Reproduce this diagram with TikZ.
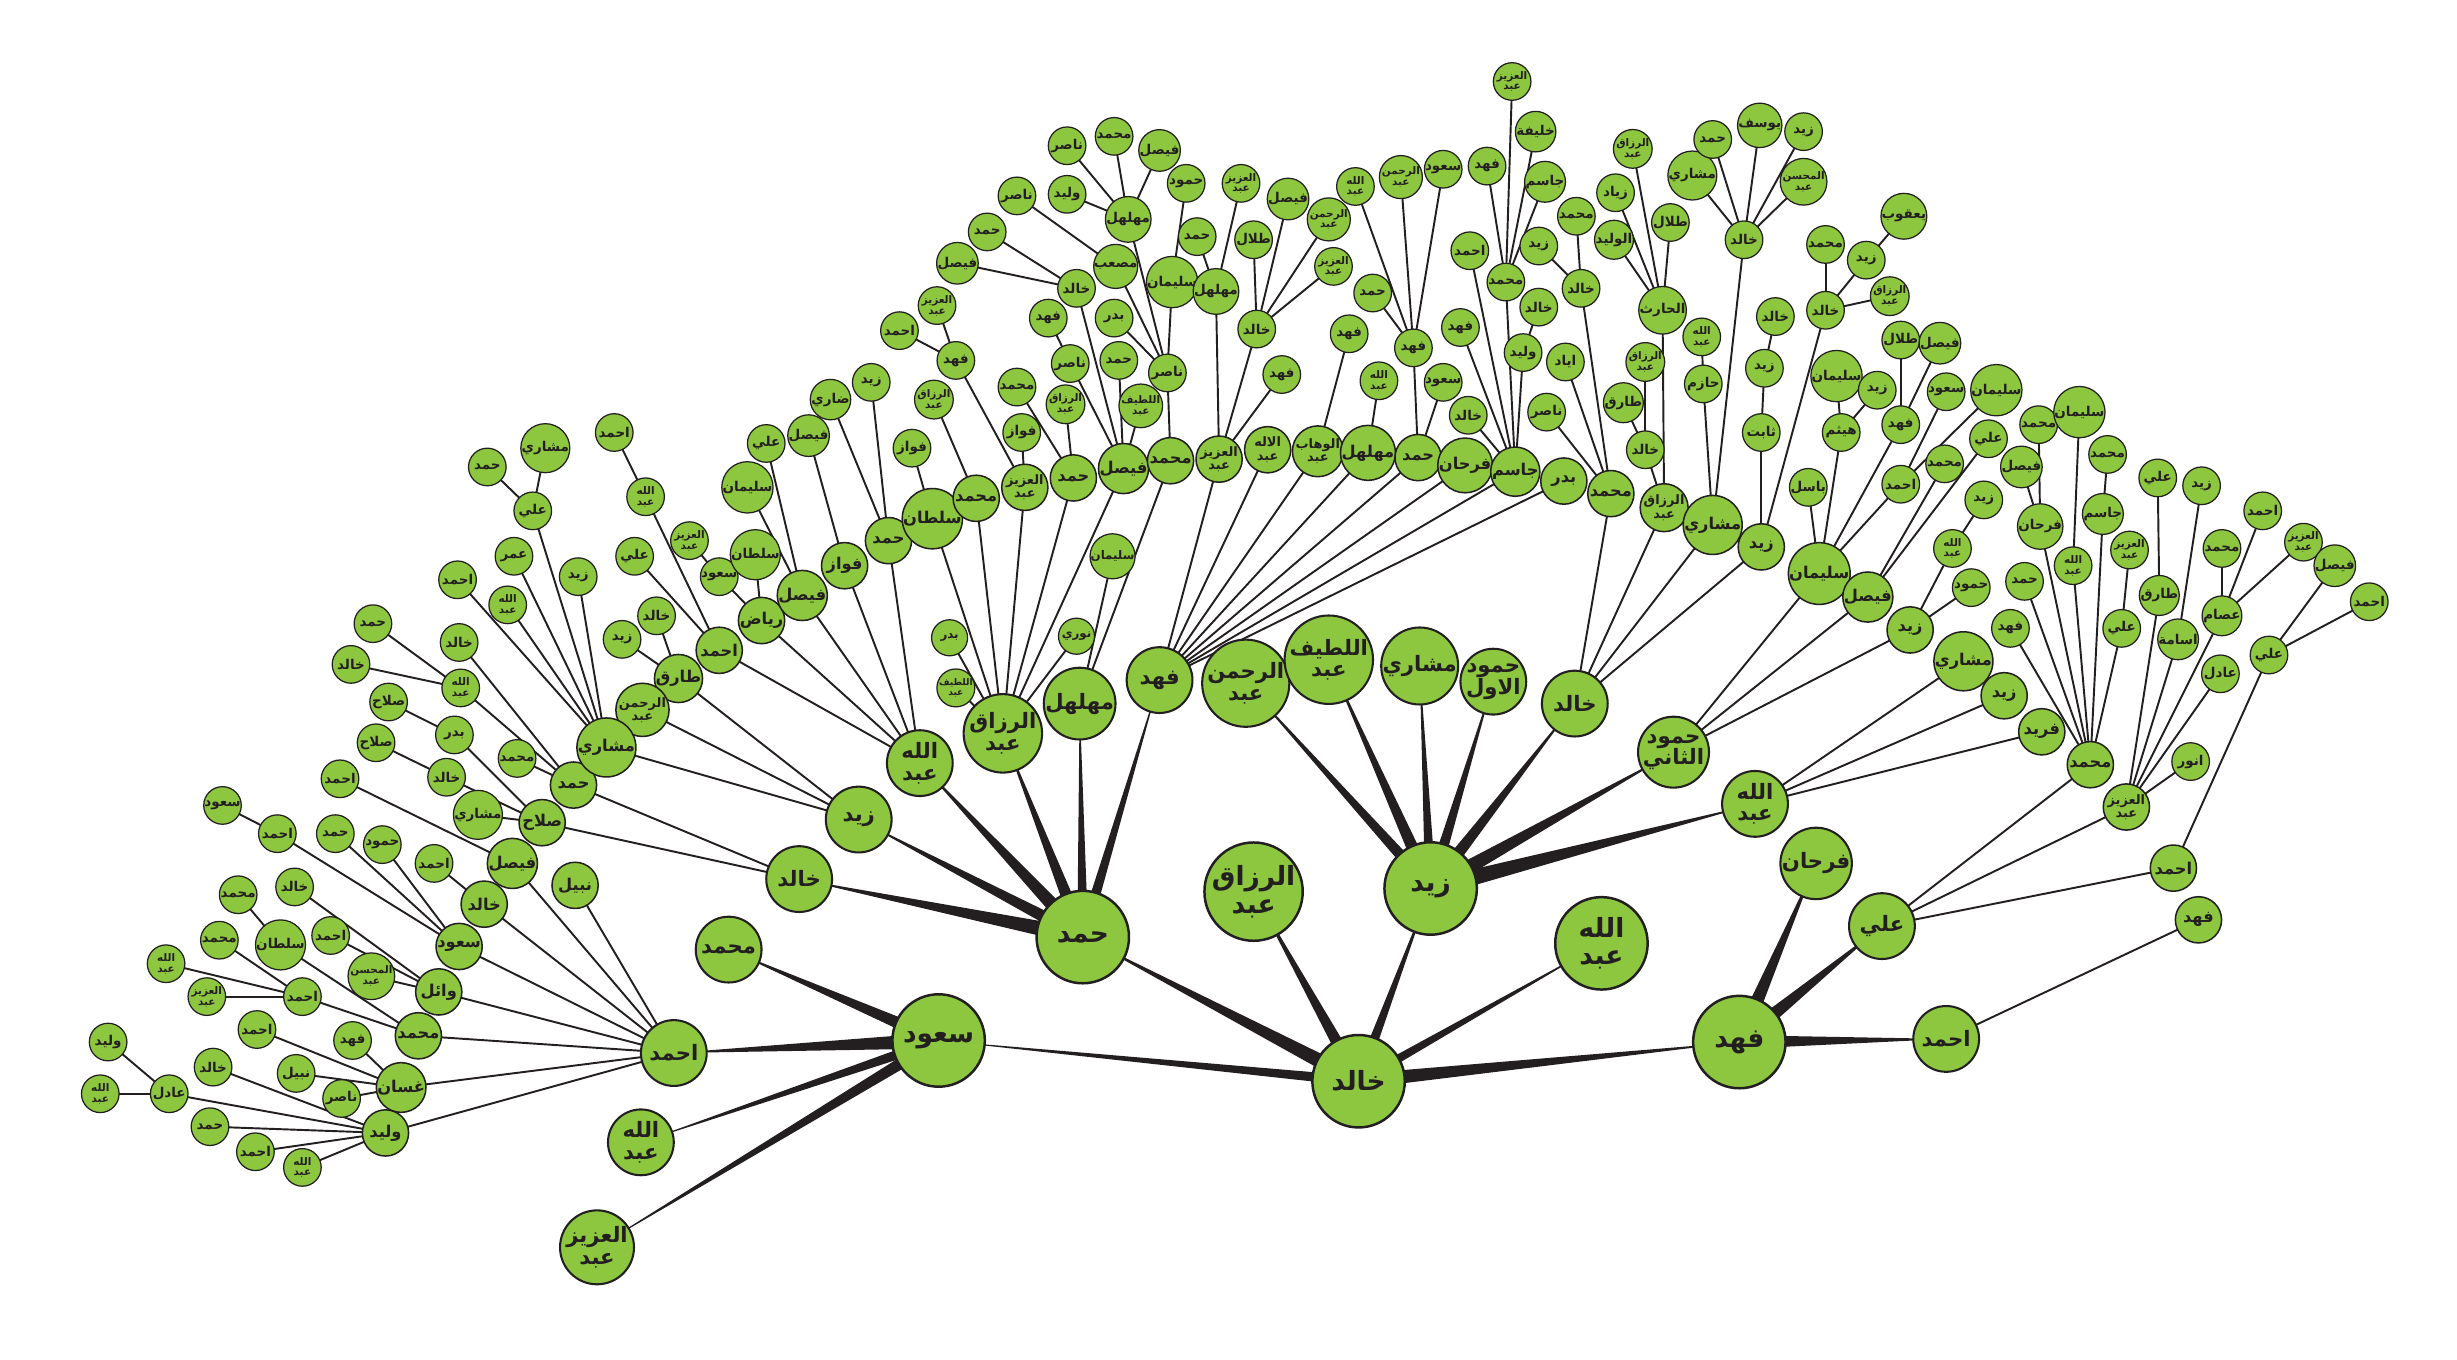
\documentclass[tikz,border=0pt]{standalone}
\usepackage{fontspec}
\usetikzlibrary{calc,backgrounds}
\TeXXeTstate=1
\newfontfamily\arabicfont[Script=Arabic]{DejaVu Sans}
\definecolor{leaf}{RGB}{141,198,63}
\definecolor{ink}{RGB}{35,31,32}
\newcommand{\AR}[1]{\beginR #1\endR}
\tikzset{
 nd/.style={circle, draw=ink, fill=leaf, inner sep=0pt, align=center, text=ink},
 big/.style={nd, minimum size=1.18cm, line width=0.9pt, font=\arabicfont\bfseries\fontsize{9.6}{10}\selectfont},
 mid/.style={nd, minimum size=0.84cm, line width=0.75pt, font=\arabicfont\bfseries\fontsize{7.7}{7.9}\selectfont},
 med/.style={nd, minimum size=0.59cm, line width=0.55pt, font=\arabicfont\bfseries\fontsize{5.9}{6.1}\selectfont},
 medt/.style={med, font=\arabicfont\bfseries\fontsize{4.7}{4.8}\selectfont},
 sml/.style={nd, minimum size=0.48cm, line width=0.45pt, font=\arabicfont\bfseries\fontsize{4.9}{5.1}\selectfont},
 smlt/.style={sml, font=\arabicfont\bfseries\fontsize{3.8}{3.9}\selectfont},
 xsm/.style={nd, minimum size=0.46cm, line width=0.45pt, font=\arabicfont\bfseries\fontsize{4.3}{4.5}\selectfont},
 xsmt/.style={xsm, font=\arabicfont\bfseries\fontsize{3.3}{3.4}\selectfont},
 ed/.style={draw=ink, line width=0.7pt},
}
\newcommand{\ED}[2]{\draw[ed] (#1.center) -- (#2.center);}
\newcommand{\WD}[3]{\fill[ink] ($(#1.center)!#3!90:(#2.center)$) -- ($(#1.center)!#3!-90:(#2.center)$) -- (#2.center) -- cycle;}
\begin{document}
\begin{tikzpicture}[x=0.02cm,y=-0.02cm]
\useasboundingbox (0,0) rectangle (1568,867.3);
% ---------- level 0 / 1
\node[big] (K0) at (867,690) {\AR{خالد}};
\node[big] (S1) at (599,664) {\AR{سعود}};
\node[big] (H1) at (691,598) {\AR{حمد}};
\node[big] (Z1) at (913,567) {\AR{زيد}};
\node[big] (F1) at (1110,665) {\AR{فهد}};
\node[big] (R1) at (800,569) {\AR{الرزاق}\\\AR{عبد}};
\node[big] (A1) at (1022,602) {\AR{الله}\\\AR{عبد}};
% ---------- level 2
\node[mid] (sM) at (465,606) {\AR{محمد}};
\node[mid] (sA) at (430,672) {\AR{احمد}};
\node[mid] (sB) at (409,729) {\AR{الله}\\\AR{عبد}};
\node[mid] (sC) at (381,796) {\AR{العزيز}\\\AR{عبد}};
\node[mid] (hZ) at (548,523) {\AR{زيد}};
\node[mid] (hK) at (510,561) {\AR{خالد}};
\node[mid] (hA) at (587,487) {\AR{الله}\\\AR{عبد}};
\node[mid] (hR) at (640,468) {\AR{الرزاق}\\\AR{عبد}};
\node[mid] (hM) at (689,449) {\AR{مهلهل}};
\node[mid] (hF) at (740,434) {\AR{فهد}};
\node[mid] (zR) at (795,436) {\AR{الرحمن}\\\AR{عبد}};
\node[mid] (zL) at (848,421) {\AR{اللطيف}\\\AR{عبد}};
\node[mid] (zM) at (906,425) {\AR{مشاري}};
\node[mid] (zH) at (953,435) {\AR{حمود}\\\AR{الاول}};
\node[mid] (zK) at (1005,449) {\AR{خالد}};
\node[mid] (zT) at (1068,480) {\AR{حمود}\\\AR{الثاني}};
\node[mid] (zA) at (1120,513) {\AR{الله}\\\AR{عبد}};
\node[mid] (fF) at (1159,551) {\AR{فرحان}};
\node[mid] (fA) at (1201,591) {\AR{علي}};
\node[mid] (fH) at (1242,663) {\AR{احمد}};
% ---------- under sA
\node[med] (a1) at (367,565) {\AR{نبيل}};
\node[med] (a2) at (327,551) {\AR{فيصل}};
\node[sml] (a2a) at (217,497) {\AR{احمد}};
\node[med] (a3) at (309,577) {\AR{خالد}};
\node[sml] (a3a) at (277,551) {\AR{احمد}};
\node[med] (a4) at (293,604) {\AR{سعود}};
\node[sml] (a4a) at (177,532) {\AR{احمد}};
\node[sml] (a4a1) at (142,514) {\AR{سعود}};
\node[sml] (a4b) at (214,532) {\AR{حمد}};
\node[sml] (a4c) at (244,539) {\AR{حمود}};
\node[med] (a5) at (280,633) {\AR{وائل}};
\node[sml] (a5a) at (188,566) {\AR{خالد}};
\node[sml] (a5b) at (211,597) {\AR{احمد}};
\node[smlt] (a5c) at (237,623) {\AR{المحسن}\\\AR{عبد}};
\node[med] (a6) at (267,661) {\AR{محمد}};
\node[sml] (a6a) at (179,603) {\AR{سلطان}};
\node[sml] (a6a1) at (152,571) {\AR{محمد}};
\node[sml] (a6b) at (193,636) {\AR{احمد}};
\node[sml] (a6b1) at (140,600) {\AR{محمد}};
\node[smlt] (a6b2) at (106,615) {\AR{الله}\\\AR{عبد}};
\node[smlt] (a6b3) at (132,636) {\AR{العزيز}\\\AR{عبد}};
\node[med] (a7) at (256,694) {\AR{غسان}};
\node[sml] (a7a) at (164,657) {\AR{احمد}};
\node[sml] (a7b) at (225,664) {\AR{فهد}};
\node[sml] (a7c) at (189,685) {\AR{نبيل}};
\node[sml] (a7d) at (218,701) {\AR{ناصر}};
\node[med] (a8) at (246,723) {\AR{وليد}};
\node[sml] (a8a) at (108,698) {\AR{عادل}};
\node[sml] (a8a1) at (69,665) {\AR{وليد}};
\node[smlt] (a8a2) at (64,698) {\AR{الله}\\\AR{عبد}};
\node[sml] (a8b) at (136,681) {\AR{خالد}};
\node[sml] (a8c) at (134,719) {\AR{حمد}};
\node[sml] (a8d) at (163,735) {\AR{احمد}};
\node[smlt] (a8e) at (193,745) {\AR{الله}\\\AR{عبد}};
% ---------- under hK
\node[med] (k1) at (366,501) {\AR{حمد}};
\node[smlt] (k1a) at (294,439) {\AR{الله}\\\AR{عبد}};
\node[sml] (k1a1) at (238,398) {\AR{حمد}};
\node[sml] (k1a2) at (224,424) {\AR{خالد}};
\node[sml] (k1b) at (293,410) {\AR{خالد}};
\node[sml] (k1c) at (330,484) {\AR{محمد}};
\node[med] (k2) at (346,525) {\AR{صلاح}};
\node[sml] (k2a) at (290,469) {\AR{بدر}};
\node[sml] (k2a1) at (248,448) {\AR{صلاح}};
\node[sml] (k2b) at (285,496) {\AR{خالد}};
\node[sml] (k2b1) at (240,474) {\AR{صلاح}};
\node[sml] (k2c) at (305,520) {\AR{مشاري}};
% ---------- under hZ
\node[med] (y1) at (433,433) {\AR{طارق}};
\node[sml] (y1a) at (397,408) {\AR{زيد}};
\node[sml] (y1b) at (419,393) {\AR{خالد}};
\node[medt] (y2) at (410,453) {\AR{الرحمن}\\\AR{عبد}};
\node[med] (y3) at (387,477) {\AR{مشاري}};
\node[sml] (y3a) at (292,370) {\AR{احمد}};
\node[sml] (y3b) at (328,355) {\AR{عمر}};
\node[sml] (y3c) at (340,326) {\AR{علي}};
\node[sml] (y3c1) at (311,298) {\AR{حمد}};
\node[sml] (y3c2) at (348,286) {\AR{مشاري}};
\node[sml] (y3d) at (369,368) {\AR{زيد}};
\node[smlt] (y3e) at (324,386) {\AR{الله}\\\AR{عبد}};
% ---------- under hA
\node[med] (b1) at (459,415) {\AR{احمد}};
\node[smlt] (b1a) at (412,317) {\AR{الله}\\\AR{عبد}};
\node[sml] (b1a1) at (392,276) {\AR{احمد}};
\node[sml] (b1b) at (405,355) {\AR{علي}};
\node[med] (b2) at (486,396) {\AR{رياض}};
\node[sml] (b2a) at (459,368) {\AR{سعود}};
\node[smlt] (b2a1) at (440,345) {\AR{العزيز}\\\AR{عبد}};
\node[sml] (b2b) at (482,354) {\AR{سلطان}};
\node[med] (b3) at (512,380) {\AR{فيصل}};
\node[sml] (b3a) at (477,311) {\AR{سليمان}};
\node[sml] (b3b) at (489,283) {\AR{علي}};
\node[med] (b4) at (539,361) {\AR{فواز}};
\node[sml] (b4a) at (516,278) {\AR{فيصل}};
\node[med] (b5) at (567,345) {\AR{حمد}};
\node[sml] (b5a) at (530,255) {\AR{ضاري}};
\node[sml] (b5b) at (556,244) {\AR{زيد}};
% ---------- under hR
\node[xsm] (c1) at (606,407) {\AR{بدر}};
\node[xsmt] (c2) at (610,439) {\AR{اللطيف}\\\AR{عبد}};
\node[xsm] (c3) at (687,406) {\AR{نوري}};
\node[med] (c4) at (595,331) {\AR{سلطان}};
\node[sml] (c4a) at (582,286) {\AR{فواز}};
\node[med] (c5) at (623,318) {\AR{محمد}};
\node[smlt] (c5a) at (596,255) {\AR{الرزاق}\\\AR{عبد}};
\node[medt] (c6) at (654,311) {\AR{العزيز}\\\AR{عبد}};
\node[sml] (c6a) at (652,276) {\AR{فواز}};
\node[sml] (c6b) at (610,230) {\AR{فهد}};
\node[sml] (c6b1) at (574,211) {\AR{احمد}};
\node[smlt] (c6b2) at (598,195) {\AR{العزيز}\\\AR{عبد}};
\node[med] (c7) at (685,305) {\AR{حمد}};
\node[sml] (c7a) at (649,247) {\AR{محمد}};
\node[smlt] (c7b) at (680,258) {\AR{الرزاق}\\\AR{عبد}};
\node[med] (c8) at (717,299) {\AR{فيصل}};
\node[sml] (c8a) at (683,232) {\AR{ناصر}};
\node[sml] (c8a1) at (669,203) {\AR{فهد}};
\node[sml] (c8b) at (687,184) {\AR{خالد}};
\node[sml] (c8b1) at (630,148) {\AR{حمد}};
\node[sml] (c8b2) at (611,168) {\AR{فيصل}};
\node[sml] (c8c) at (714,230) {\AR{حمد}};
\node[smlt] (c8d) at (728,259) {\AR{اللطيف}\\\AR{عبد}};
% ---------- under hM
\node[xsm] (d0) at (710,355) {\AR{سليمان}};
\node[med] (d1) at (747,294) {\AR{محمد}};
\node[sml] (d1a) at (745,238) {\AR{ناصر}};
\node[sml] (d1a1) at (711,203) {\AR{بدر}};
\node[sml] (d1a2) at (712,170) {\AR{مصعب}};
\node[sml] (d1a2a) at (649,125) {\AR{ناصر}};
\node[sml] (d1a3) at (720,140) {\AR{مهلهل}};
\node[sml] (d1a3a) at (681,93) {\AR{ناصر}};
\node[sml] (d1a3b) at (711,87) {\AR{محمد}};
\node[sml] (d1a3c) at (740,96) {\AR{فيصل}};
\node[sml] (d1a3d) at (681,124) {\AR{وليد}};
\node[sml] (d1a4) at (748,180) {\AR{سليمان}};
\node[sml] (d1a4a) at (757,117) {\AR{حمود}};
% ---------- under hF
\node[medt] (e1) at (778,293) {\AR{العزيز}\\\AR{عبد}};
\node[sml] (e1a) at (776,186) {\AR{مهلهل}};
\node[sml] (e1a1) at (764,151) {\AR{حمد}};
\node[smlt] (e1a2) at (792,117) {\AR{العزيز}\\\AR{عبد}};
\node[sml] (e1b) at (802,210) {\AR{خالد}};
\node[sml] (e1b1) at (800,153) {\AR{طلال}};
\node[sml] (e1b2) at (822,127) {\AR{فيصل}};
\node[smlt] (e1b3) at (848,140) {\AR{الرحمن}\\\AR{عبد}};
\node[smlt] (e1b4) at (851,170) {\AR{العزيز}\\\AR{عبد}};
\node[sml] (e1c) at (818,239) {\AR{فهد}};
\node[medt] (e2) at (809,287) {\AR{الاله}\\\AR{عبد}};
\node[medt] (e3) at (841,288) {\AR{الوهاب}\\\AR{عبد}};
\node[sml] (e3a) at (861,213) {\AR{فهد}};
\node[med] (e4) at (873,289) {\AR{مهلهل}};
\node[smlt] (e4a) at (880,243) {\AR{الله}\\\AR{عبد}};
\node[med] (e5) at (905,292) {\AR{حمد}};
\node[sml] (e5a) at (902,222) {\AR{فهد}};
\node[sml] (e5a1) at (876,187) {\AR{حمد}};
\node[smlt] (e5a2) at (865,119) {\AR{الله}\\\AR{عبد}};
\node[smlt] (e5a3) at (894,113) {\AR{الرحمن}\\\AR{عبد}};
\node[sml] (e5a4) at (921,108) {\AR{سعود}};
\node[sml] (e5b) at (921,244) {\AR{سعود}};
\node[med] (e6) at (935,297) {\AR{فرحان}};
\node[med] (e7) at (967,301) {\AR{جاسم}};
\node[sml] (e7a) at (937,265) {\AR{خالد}};
\node[sml] (e7b) at (932,209) {\AR{فهد}};
\node[sml] (e7c) at (938,160) {\AR{احمد}};
\node[sml] (e7d) at (961,180) {\AR{محمد}};
\node[smlt] (e7d1) at (965,52) {\AR{العزيز}\\\AR{عبد}};
\node[sml] (e7d2) at (949,106) {\AR{فهد}};
\node[sml] (e7d3) at (980,84) {\AR{خليفة}};
\node[sml] (e7d4) at (986,116) {\AR{جاسم}};
\node[sml] (e7e) at (972,225) {\AR{وليد}};
\node[sml] (e7e1) at (982,196) {\AR{خالد}};
\node[med] (e8) at (998,307) {\AR{بدر}};
% ---------- under zK
\node[med] (g1) at (1028,315) {\AR{محمد}};
\node[sml] (g1a) at (987,263) {\AR{ناصر}};
\node[sml] (g1b) at (999,231) {\AR{اياد}};
\node[sml] (g1c) at (1009,184) {\AR{خالد}};
\node[sml] (g1c1) at (1006,138) {\AR{محمد}};
\node[sml] (g1c2) at (982,157) {\AR{زيد}};
\node[medt] (g2) at (1062,324) {\AR{الرزاق}\\\AR{عبد}};
\node[sml] (g2a) at (1050,287) {\AR{خالد}};
\node[sml] (g2a1) at (1036,257) {\AR{طارق}};
\node[smlt] (g2a2) at (1050,231) {\AR{الرزاق}\\\AR{عبد}};
\node[sml] (g2b) at (1061,198) {\AR{الحارث}};
\node[sml] (g2b1) at (1030,153) {\AR{الوليد}};
\node[sml] (g2b2) at (1031,123) {\AR{زياد}};
\node[smlt] (g2b3) at (1042,95) {\AR{الرزاق}\\\AR{عبد}};
\node[sml] (g2b4) at (1066,142) {\AR{طلال}};
\node[med] (g3) at (1093,335) {\AR{مشاري}};
\node[sml] (g3a) at (1087,245) {\AR{حازم}};
\node[smlt] (g3a1) at (1086,215) {\AR{الله}\\\AR{عبد}};
\node[sml] (g3b) at (1113,153) {\AR{خالد}};
\node[sml] (g3b1) at (1080,112) {\AR{مشاري}};
\node[sml] (g3b2) at (1093,89) {\AR{حمد}};
\node[sml] (g3b3) at (1123,80) {\AR{يوسف}};
\node[sml] (g3b4) at (1151,84) {\AR{زيد}};
\node[smlt] (g3b5) at (1151,116) {\AR{المحسن}\\\AR{عبد}};
\node[med] (g4) at (1124,349) {\AR{زيد}};
\node[sml] (g4a) at (1124,276) {\AR{ثابت}};
\node[sml] (g4a1) at (1126,235) {\AR{زيد}};
\node[sml] (g4a1a) at (1133,202) {\AR{خالد}};
\node[sml] (g4b) at (1165,198) {\AR{خالد}};
\node[sml] (g4b1) at (1165,156) {\AR{محمد}};
\node[sml] (g4b2) at (1191,166) {\AR{زيد}};
\node[sml] (g4b2a) at (1215,138) {\AR{يعقوب}};
\node[smlt] (g4b3) at (1206,189) {\AR{الرزاق}\\\AR{عبد}};
% ---------- under zT
\node[med] (h1) at (1161,366) {\AR{سليمان}};
\node[sml] (h1a) at (1154,311) {\AR{باسل}};
\node[sml] (h1b) at (1175,276) {\AR{هيثم}};
\node[sml] (h1b1) at (1172,240) {\AR{سليمان}};
\node[sml] (h1b2) at (1198,249) {\AR{زيد}};
\node[sml] (h1c) at (1213,271) {\AR{فهد}};
\node[sml] (h1c1) at (1213,217) {\AR{طلال}};
\node[sml] (h1c2) at (1238,219) {\AR{فيصل}};
\node[sml] (h1d) at (1213,309) {\AR{احمد}};
\node[sml] (h1d1) at (1242,250) {\AR{سعود}};
\node[sml] (h1d2) at (1274,249) {\AR{سليمان}};
\node[med] (h2) at (1192,381) {\AR{فيصل}};
\node[sml] (h2a) at (1241,296) {\AR{محمد}};
\node[sml] (h2b) at (1269,280) {\AR{علي}};
\node[med] (h3) at (1219,402) {\AR{زيد}};
\node[smlt] (h3a) at (1246,350) {\AR{الله}\\\AR{عبد}};
\node[sml] (h3a1) at (1266,319) {\AR{زيد}};
\node[sml] (h3b) at (1258,375) {\AR{حمود}};
% ---------- under zA
\node[med] (i1) at (1253,422) {\AR{مشاري}};
\node[med] (i2) at (1279,444) {\AR{زيد}};
\node[med] (i3) at (1303,467) {\AR{فريد}};
% ---------- under fA, fH
\node[med] (j1) at (1334,488) {\AR{محمد}};
\node[sml] (j1a) at (1283,401) {\AR{فهد}};
\node[sml] (j1b) at (1292,371) {\AR{حمد}};
\node[sml] (j1c) at (1302,336) {\AR{فرحان}};
\node[sml] (j1c1) at (1290,298) {\AR{فيصل}};
\node[sml] (j1c2) at (1301,271) {\AR{محمد}};
\node[smlt] (j1d) at (1323,361) {\AR{الله}\\\AR{عبد}};
\node[sml] (j1d1) at (1327,263) {\AR{سليمان}};
\node[sml] (j1e) at (1342,328) {\AR{جاسم}};
\node[sml] (j1e1) at (1345,290) {\AR{محمد}};
\node[sml] (j1f) at (1354,401) {\AR{علي}};
\node[smlt] (j1f1) at (1359,351) {\AR{العزيز}\\\AR{عبد}};
\node[medt] (j2) at (1357,515) {\AR{العزيز}\\\AR{عبد}};
\node[sml] (j2a) at (1378,380) {\AR{طارق}};
\node[sml] (j2a1) at (1377,305) {\AR{علي}};
\node[sml] (j2b) at (1390,408) {\AR{اسامة}};
\node[sml] (j2b1) at (1405,310) {\AR{زيد}};
\node[sml] (j2c) at (1418,393) {\AR{عصام}};
\node[sml] (j2c1) at (1418,350) {\AR{محمد}};
\node[sml] (j2c2) at (1444,326) {\AR{احمد}};
\node[smlt] (j2c3) at (1470,346) {\AR{العزيز}\\\AR{عبد}};
\node[sml] (j2d) at (1417,430) {\AR{عادل}};
\node[sml] (j2e) at (1398,486) {\AR{انور}};
\node[med] (j3) at (1387,554) {\AR{احمد}};
\node[sml] (j3a) at (1448,418) {\AR{علي}};
\node[sml] (j3a1) at (1490,361) {\AR{فيصل}};
\node[sml] (j3a2) at (1512,384) {\AR{احمد}};
\node[med] (l1) at (1403,587) {\AR{فهد}};
% ================= connectors
\begin{pgfonlayer}{background}
% wedges
\WD{K0}{S1}{1.9pt} \WD{K0}{H1}{3pt} \WD{K0}{R1}{2.6pt} \WD{K0}{Z1}{2.1pt} \WD{K0}{A1}{1.8pt} \WD{K0}{F1}{2.7pt}
\WD{S1}{sM}{2.6pt} \WD{S1}{sA}{2.9pt} \WD{S1}{sB}{2pt} \WD{S1}{sC}{2.3pt}
\WD{H1}{hZ}{2.6pt} \WD{H1}{hK}{3.1pt} \WD{H1}{hA}{3pt} \WD{H1}{hR}{2.6pt} \WD{H1}{hM}{2pt} \WD{H1}{hF}{2.1pt}
\WD{Z1}{zR}{2.3pt} \WD{Z1}{zL}{2.6pt} \WD{Z1}{zM}{2pt} \WD{Z1}{zH}{2.3pt} \WD{Z1}{zK}{2.6pt} \WD{Z1}{zT}{3pt} \WD{Z1}{zA}{3.3pt}
\WD{F1}{fF}{3pt} \WD{F1}{fA}{3pt} \WD{F1}{fH}{2.5pt}
% under sA
\ED{sA}{a1} \ED{sA}{a2} \ED{sA}{a3} \ED{sA}{a4} \ED{sA}{a5} \ED{sA}{a6} \ED{sA}{a7} \ED{sA}{a8}
\ED{a2}{a2a} \ED{a3}{a3a}
\ED{a4}{a4a} \ED{a4a}{a4a1} \ED{a4}{a4b} \ED{a4}{a4c}
\ED{a5}{a5a} \ED{a5}{a5b} \ED{a5}{a5c}
\ED{a6}{a6a} \ED{a6a}{a6a1} \ED{a6}{a6b} \ED{a6b}{a6b1} \ED{a6b}{a6b2} \ED{a6b}{a6b3}
\ED{a7}{a7a} \ED{a7}{a7b} \ED{a7}{a7c} \ED{a7}{a7d}
\ED{a8}{a8a} \ED{a8a}{a8a1} \ED{a8a}{a8a2} \ED{a8}{a8b} \ED{a8}{a8c} \ED{a8}{a8d} \ED{a8}{a8e}
% under hK
\ED{hK}{k1} \ED{k1}{k1a} \ED{k1a}{k1a1} \ED{k1a}{k1a2} \ED{k1}{k1b} \ED{k1}{k1c}
\ED{hK}{k2} \ED{k2}{k2a} \ED{k2a}{k2a1} \ED{k2}{k2b} \ED{k2b}{k2b1} \ED{k2}{k2c}
% under hZ
\ED{hZ}{y1} \ED{y1}{y1a} \ED{y1}{y1b} \ED{hZ}{y2} \ED{hZ}{y3}
\ED{y3}{y3a} \ED{y3}{y3b} \ED{y3}{y3c} \ED{y3c}{y3c1} \ED{y3c}{y3c2} \ED{y3}{y3d} \ED{y3}{y3e}
% under hA
\ED{hA}{b1} \ED{b1}{b1a} \ED{b1a}{b1a1} \ED{b1}{b1b}
\ED{hA}{b2} \ED{b2}{b2a} \ED{b2a}{b2a1} \ED{b2}{b2b}
\ED{hA}{b3} \ED{b3}{b3a} \ED{b3}{b3b}
\ED{hA}{b4} \ED{b4}{b4a}
\ED{hA}{b5} \ED{b5}{b5a} \ED{b5}{b5b}
% under hR
\ED{hR}{c1} \ED{hR}{c2} \ED{hR}{c3}
\ED{hR}{c4} \ED{c4}{c4a}
\ED{hR}{c5} \ED{c5}{c5a}
\ED{hR}{c6} \ED{c6}{c6a} \ED{c6}{c6b} \ED{c6b}{c6b1} \ED{c6b}{c6b2}
\ED{hR}{c7} \ED{c7}{c7a} \ED{c7}{c7b}
\ED{hR}{c8} \ED{c8}{c8a} \ED{c8a}{c8a1} \ED{c8}{c8b} \ED{c8b}{c8b1} \ED{c8b}{c8b2} \ED{c8}{c8c} \ED{c8}{c8d}
% under hM
\ED{hM}{d0} \ED{hM}{d1} \ED{d1}{d1a}
\ED{d1a}{d1a1} \ED{d1a}{d1a2} \ED{d1a2}{d1a2a} \ED{d1a}{d1a3} \ED{d1a}{d1a4} \ED{d1a4}{d1a4a}
\ED{d1a3}{d1a3a} \ED{d1a3}{d1a3b} \ED{d1a3}{d1a3c} \ED{d1a3}{d1a3d}
% under hF
\ED{hF}{e1} \ED{e1}{e1a} \ED{e1a}{e1a1} \ED{e1a}{e1a2}
\ED{e1}{e1b} \ED{e1b}{e1b1} \ED{e1b}{e1b2} \ED{e1b}{e1b3} \ED{e1b}{e1b4} \ED{e1}{e1c}
\ED{hF}{e2} \ED{hF}{e3} \ED{e3}{e3a} \ED{hF}{e4} \ED{e4}{e4a}
\ED{hF}{e5} \ED{e5}{e5a} \ED{e5a}{e5a1} \ED{e5a}{e5a2} \ED{e5a}{e5a3} \ED{e5a}{e5a4} \ED{e5}{e5b}
\ED{hF}{e6} \ED{hF}{e7} \ED{e7}{e7a} \ED{e7}{e7b} \ED{e7}{e7c} \ED{e7}{e7d} \ED{e7}{e7e} \ED{e7e}{e7e1}
\ED{e7d}{e7d1} \ED{e7d}{e7d2} \ED{e7d}{e7d3} \ED{e7d}{e7d4}
\ED{hF}{e8}
% under zK
\ED{zK}{g1} \ED{g1}{g1a} \ED{g1}{g1b} \ED{g1}{g1c} \ED{g1c}{g1c1} \ED{g1c}{g1c2}
\ED{zK}{g2} \ED{g2}{g2a} \ED{g2a}{g2a1} \ED{g2a}{g2a2} \ED{g2}{g2b} \ED{g2b}{g2b1} \ED{g2b}{g2b2} \ED{g2b}{g2b3} \ED{g2b}{g2b4}
\ED{zK}{g3} \ED{g3}{g3a} \ED{g3a}{g3a1} \ED{g3}{g3b} \ED{g3b}{g3b1} \ED{g3b}{g3b2} \ED{g3b}{g3b3} \ED{g3b}{g3b4} \ED{g3b}{g3b5}
\ED{zK}{g4} \ED{g4}{g4a} \ED{g4a}{g4a1} \ED{g4a1}{g4a1a} \ED{g4}{g4b} \ED{g4b}{g4b1} \ED{g4b}{g4b2} \ED{g4b2}{g4b2a} \ED{g4b}{g4b3}
% under zT
\ED{zT}{h1} \ED{h1}{h1a} \ED{h1}{h1b} \ED{h1b}{h1b1} \ED{h1b}{h1b2} \ED{h1}{h1c} \ED{h1c}{h1c1} \ED{h1c}{h1c2} \ED{h1}{h1d} \ED{h1d}{h1d1} \ED{h1d}{h1d2}
\ED{zT}{h2} \ED{h2}{h2a} \ED{h2}{h2b}
\ED{zT}{h3} \ED{h3}{h3a} \ED{h3a}{h3a1} \ED{h3}{h3b}
% under zA
\ED{zA}{i1} \ED{zA}{i2} \ED{zA}{i3}
% under fA / fH
\ED{fA}{j1} \ED{j1}{j1a} \ED{j1}{j1b} \ED{j1}{j1c} \ED{j1c}{j1c1} \ED{j1c}{j1c2} \ED{j1}{j1d} \ED{j1d}{j1d1} \ED{j1}{j1e} \ED{j1e}{j1e1} \ED{j1}{j1f} \ED{j1f}{j1f1}
\ED{fA}{j2} \ED{j2}{j2a} \ED{j2a}{j2a1} \ED{j2}{j2b} \ED{j2b}{j2b1} \ED{j2}{j2c} \ED{j2c}{j2c1} \ED{j2c}{j2c2} \ED{j2c}{j2c3} \ED{j2}{j2d} \ED{j2}{j2e}
\ED{fA}{j3} \ED{j3}{j3a} \ED{j3a}{j3a1} \ED{j3a}{j3a2}
\ED{fH}{l1}
\end{pgfonlayer}
\end{tikzpicture}
\end{document}
